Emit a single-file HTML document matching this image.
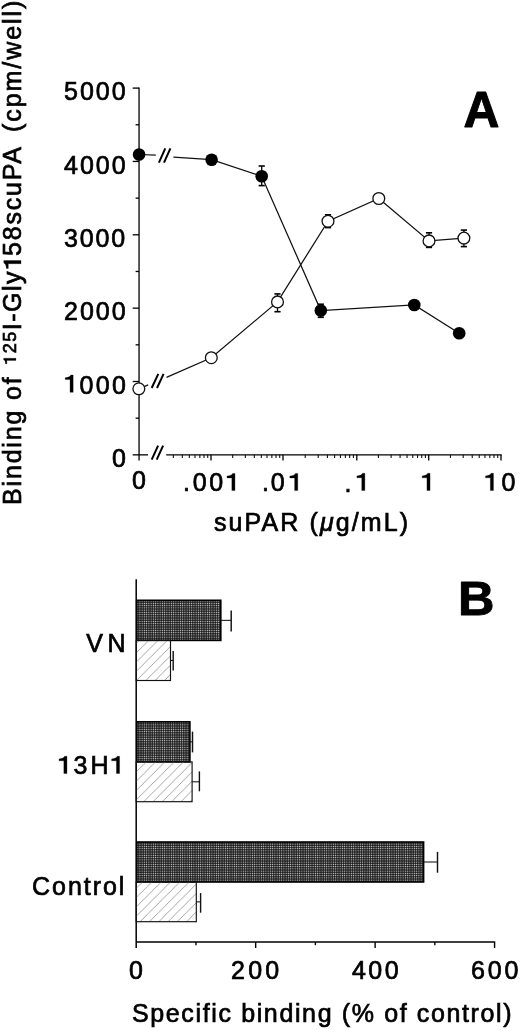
<!DOCTYPE html>
<html><head><meta charset="utf-8"><style>
html,body{margin:0;padding:0;background:#fff;width:520px;height:1030px;overflow:hidden}
svg{display:block;will-change:transform}
text{font-family:"Liberation Sans",sans-serif}
</style></head><body>
<svg width="520" height="1030" viewBox="0 0 520 1030">
<rect width="520" height="1030" fill="#fff"/>
<line x1="139.05" y1="87.50000000000003" x2="139.05" y2="460.6" stroke="#000" stroke-width="1.3"/>
<line x1="132.7" y1="454.85" x2="139.05" y2="454.85" stroke="#000" stroke-width="1.3"/>
<line x1="132.7" y1="381.5" x2="139.05" y2="381.5" stroke="#000" stroke-width="1.3"/>
<line x1="132.7" y1="308.15000000000003" x2="139.05" y2="308.15000000000003" stroke="#000" stroke-width="1.3"/>
<line x1="132.7" y1="234.80000000000004" x2="139.05" y2="234.80000000000004" stroke="#000" stroke-width="1.3"/>
<line x1="132.7" y1="161.45000000000005" x2="139.05" y2="161.45000000000005" stroke="#000" stroke-width="1.3"/>
<line x1="132.7" y1="88.10000000000002" x2="139.05" y2="88.10000000000002" stroke="#000" stroke-width="1.3"/>
<line x1="135.6" y1="418.175" x2="139.05" y2="418.175" stroke="#000" stroke-width="1.3"/>
<line x1="135.6" y1="344.82500000000005" x2="139.05" y2="344.82500000000005" stroke="#000" stroke-width="1.3"/>
<line x1="135.6" y1="271.475" x2="139.05" y2="271.475" stroke="#000" stroke-width="1.3"/>
<line x1="135.6" y1="198.12500000000006" x2="139.05" y2="198.12500000000006" stroke="#000" stroke-width="1.3"/>
<line x1="135.6" y1="124.77500000000003" x2="139.05" y2="124.77500000000003" stroke="#000" stroke-width="1.3"/>
<line x1="139.05" y1="454.85" x2="148.0" y2="454.85" stroke="#000" stroke-width="1.3"/>
<line x1="166.2" y1="454.85" x2="501.6" y2="454.85" stroke="#000" stroke-width="1.3"/>
<line x1="211.0" y1="454.85" x2="211.0" y2="460.6" stroke="#000" stroke-width="1.3"/>
<line x1="283.0" y1="454.85" x2="283.0" y2="460.6" stroke="#000" stroke-width="1.3"/>
<line x1="356.8" y1="454.85" x2="356.8" y2="460.6" stroke="#000" stroke-width="1.3"/>
<line x1="428.7" y1="454.85" x2="428.7" y2="460.6" stroke="#000" stroke-width="1.3"/>
<line x1="501.0" y1="454.85" x2="501.0" y2="460.6" stroke="#000" stroke-width="1.3"/>
<line x1="173.35" y1="454.85" x2="173.35" y2="457.9" stroke="#111" stroke-width="1.1"/>
<line x1="182.35" y1="454.85" x2="182.35" y2="457.9" stroke="#111" stroke-width="1.1"/>
<line x1="189.33" y1="454.85" x2="189.33" y2="457.9" stroke="#111" stroke-width="1.1"/>
<line x1="195.03" y1="454.85" x2="195.03" y2="457.9" stroke="#111" stroke-width="1.1"/>
<line x1="199.85" y1="454.85" x2="199.85" y2="457.9" stroke="#111" stroke-width="1.1"/>
<line x1="204.02" y1="454.85" x2="204.02" y2="457.9" stroke="#111" stroke-width="1.1"/>
<line x1="207.71" y1="454.85" x2="207.71" y2="457.9" stroke="#111" stroke-width="1.1"/>
<line x1="232.67" y1="454.85" x2="232.67" y2="457.9" stroke="#111" stroke-width="1.1"/>
<line x1="245.35" y1="454.85" x2="245.35" y2="457.9" stroke="#111" stroke-width="1.1"/>
<line x1="254.35" y1="454.85" x2="254.35" y2="457.9" stroke="#111" stroke-width="1.1"/>
<line x1="261.33" y1="454.85" x2="261.33" y2="457.9" stroke="#111" stroke-width="1.1"/>
<line x1="267.03" y1="454.85" x2="267.03" y2="457.9" stroke="#111" stroke-width="1.1"/>
<line x1="271.85" y1="454.85" x2="271.85" y2="457.9" stroke="#111" stroke-width="1.1"/>
<line x1="276.02" y1="454.85" x2="276.02" y2="457.9" stroke="#111" stroke-width="1.1"/>
<line x1="279.71" y1="454.85" x2="279.71" y2="457.9" stroke="#111" stroke-width="1.1"/>
<line x1="305.22" y1="454.85" x2="305.22" y2="457.9" stroke="#111" stroke-width="1.1"/>
<line x1="318.21" y1="454.85" x2="318.21" y2="457.9" stroke="#111" stroke-width="1.1"/>
<line x1="327.43" y1="454.85" x2="327.43" y2="457.9" stroke="#111" stroke-width="1.1"/>
<line x1="334.58" y1="454.85" x2="334.58" y2="457.9" stroke="#111" stroke-width="1.1"/>
<line x1="340.43" y1="454.85" x2="340.43" y2="457.9" stroke="#111" stroke-width="1.1"/>
<line x1="345.37" y1="454.85" x2="345.37" y2="457.9" stroke="#111" stroke-width="1.1"/>
<line x1="349.65" y1="454.85" x2="349.65" y2="457.9" stroke="#111" stroke-width="1.1"/>
<line x1="353.42" y1="454.85" x2="353.42" y2="457.9" stroke="#111" stroke-width="1.1"/>
<line x1="378.44" y1="454.85" x2="378.44" y2="457.9" stroke="#111" stroke-width="1.1"/>
<line x1="391.11" y1="454.85" x2="391.11" y2="457.9" stroke="#111" stroke-width="1.1"/>
<line x1="400.09" y1="454.85" x2="400.09" y2="457.9" stroke="#111" stroke-width="1.1"/>
<line x1="407.06" y1="454.85" x2="407.06" y2="457.9" stroke="#111" stroke-width="1.1"/>
<line x1="412.75" y1="454.85" x2="412.75" y2="457.9" stroke="#111" stroke-width="1.1"/>
<line x1="417.56" y1="454.85" x2="417.56" y2="457.9" stroke="#111" stroke-width="1.1"/>
<line x1="421.73" y1="454.85" x2="421.73" y2="457.9" stroke="#111" stroke-width="1.1"/>
<line x1="425.41" y1="454.85" x2="425.41" y2="457.9" stroke="#111" stroke-width="1.1"/>
<line x1="450.46" y1="454.85" x2="450.46" y2="457.9" stroke="#111" stroke-width="1.1"/>
<line x1="463.20" y1="454.85" x2="463.20" y2="457.9" stroke="#111" stroke-width="1.1"/>
<line x1="472.23" y1="454.85" x2="472.23" y2="457.9" stroke="#111" stroke-width="1.1"/>
<line x1="479.24" y1="454.85" x2="479.24" y2="457.9" stroke="#111" stroke-width="1.1"/>
<line x1="484.96" y1="454.85" x2="484.96" y2="457.9" stroke="#111" stroke-width="1.1"/>
<line x1="489.80" y1="454.85" x2="489.80" y2="457.9" stroke="#111" stroke-width="1.1"/>
<line x1="493.99" y1="454.85" x2="493.99" y2="457.9" stroke="#111" stroke-width="1.1"/>
<line x1="497.69" y1="454.85" x2="497.69" y2="457.9" stroke="#111" stroke-width="1.1"/>
<line x1="151.7" y1="459.6" x2="158.1" y2="445.7" stroke="#000" stroke-width="2.0"/>
<line x1="156.7" y1="459.6" x2="163.1" y2="445.7" stroke="#000" stroke-width="2.0"/>
<line x1="158.9" y1="162.6" x2="165.3" y2="148.4" stroke="#000" stroke-width="2.0"/>
<line x1="164.0" y1="162.6" x2="170.4" y2="148.4" stroke="#000" stroke-width="2.0"/>
<line x1="151.7" y1="388.0" x2="158.3" y2="373.8" stroke="#000" stroke-width="2.0"/>
<line x1="157.0" y1="388.0" x2="163.60000000000002" y2="373.8" stroke="#000" stroke-width="2.0"/>
<polyline points="139.05,154.5 155.8,155.2" fill="none" stroke="#111" stroke-width="1.25"/>
<polyline points="173.4,157.1 211.6,159.7 261.7,176.2 320.8,310.5 414.3,305.0 459.2,333.3" fill="none" stroke="#111" stroke-width="1.25"/>
<polyline points="138.85,388.8 148.2,384.9" fill="none" stroke="#111" stroke-width="1.25"/>
<polyline points="166.5,377.4 211.3,357.7 277.5,301.9 328.0,221.2 378.8,198.5 429.0,240.9 463.9,238.1" fill="none" stroke="#111" stroke-width="1.25"/>
<line x1="261.7" y1="166.0" x2="261.7" y2="185.6" stroke="#000" stroke-width="1.3"/>
<line x1="258.59999999999997" y1="166.0" x2="264.8" y2="166.0" stroke="#000" stroke-width="1.6"/>
<line x1="258.59999999999997" y1="185.6" x2="264.8" y2="185.6" stroke="#000" stroke-width="1.6"/>
<line x1="320.8" y1="304.2" x2="320.8" y2="317.3" stroke="#000" stroke-width="1.3"/>
<line x1="317.7" y1="304.2" x2="323.90000000000003" y2="304.2" stroke="#000" stroke-width="1.6"/>
<line x1="317.7" y1="317.3" x2="323.90000000000003" y2="317.3" stroke="#000" stroke-width="1.6"/>
<line x1="277.5" y1="293.9" x2="277.5" y2="311.7" stroke="#000" stroke-width="1.3"/>
<line x1="274.4" y1="293.9" x2="280.6" y2="293.9" stroke="#000" stroke-width="1.6"/>
<line x1="274.4" y1="311.7" x2="280.6" y2="311.7" stroke="#000" stroke-width="1.6"/>
<line x1="328.0" y1="214.8" x2="328.0" y2="227.6" stroke="#000" stroke-width="1.3"/>
<line x1="324.9" y1="214.8" x2="331.1" y2="214.8" stroke="#000" stroke-width="1.6"/>
<line x1="324.9" y1="227.6" x2="331.1" y2="227.6" stroke="#000" stroke-width="1.6"/>
<line x1="429.0" y1="232.8" x2="429.0" y2="247.4" stroke="#000" stroke-width="1.3"/>
<line x1="425.9" y1="232.8" x2="432.1" y2="232.8" stroke="#000" stroke-width="1.6"/>
<line x1="425.9" y1="247.4" x2="432.1" y2="247.4" stroke="#000" stroke-width="1.6"/>
<line x1="463.9" y1="230.1" x2="463.9" y2="246.6" stroke="#000" stroke-width="1.3"/>
<line x1="460.79999999999995" y1="230.1" x2="467.0" y2="230.1" stroke="#000" stroke-width="1.6"/>
<line x1="460.79999999999995" y1="246.6" x2="467.0" y2="246.6" stroke="#000" stroke-width="1.6"/>
<circle cx="138.85" cy="388.8" r="5.9" fill="#fff" stroke="#111" stroke-width="1.3"/>
<circle cx="211.3" cy="357.7" r="5.9" fill="#fff" stroke="#111" stroke-width="1.3"/>
<circle cx="277.5" cy="301.9" r="5.9" fill="#fff" stroke="#111" stroke-width="1.3"/>
<circle cx="328.0" cy="221.2" r="5.9" fill="#fff" stroke="#111" stroke-width="1.3"/>
<circle cx="378.8" cy="198.5" r="5.9" fill="#fff" stroke="#111" stroke-width="1.3"/>
<circle cx="429.0" cy="240.9" r="5.9" fill="#fff" stroke="#111" stroke-width="1.3"/>
<circle cx="463.9" cy="238.1" r="5.9" fill="#fff" stroke="#111" stroke-width="1.3"/>
<circle cx="139.05" cy="154.5" r="6.3" fill="#000"/>
<circle cx="211.6" cy="159.7" r="6.3" fill="#000"/>
<circle cx="261.7" cy="176.2" r="6.3" fill="#000"/>
<circle cx="320.8" cy="310.5" r="6.3" fill="#000"/>
<circle cx="414.3" cy="305.0" r="6.3" fill="#000"/>
<circle cx="459.2" cy="333.3" r="6.3" fill="#000"/>
<line x1="136.2" y1="579.2" x2="136.2" y2="948" stroke="#000" stroke-width="1.5"/>
<line x1="136.2" y1="942.0" x2="495.18" y2="942.0" stroke="#000" stroke-width="1.5"/>
<line x1="195.93" y1="942.0" x2="195.93" y2="945.2" stroke="#000" stroke-width="1.4"/>
<line x1="255.66" y1="942.0" x2="255.66" y2="948" stroke="#000" stroke-width="1.4"/>
<line x1="315.39" y1="942.0" x2="315.39" y2="945.2" stroke="#000" stroke-width="1.4"/>
<line x1="375.12" y1="942.0" x2="375.12" y2="948" stroke="#000" stroke-width="1.4"/>
<line x1="434.85" y1="942.0" x2="434.85" y2="945.2" stroke="#000" stroke-width="1.4"/>
<line x1="494.58" y1="942.0" x2="494.58" y2="948" stroke="#000" stroke-width="1.4"/>
<defs><pattern id="hat0" patternUnits="userSpaceOnUse" width="9.3" height="9.3" patternTransform="translate(7.9,0)"><line x1="-1" y1="10.3" x2="10.3" y2="-1" stroke="#9a9a9a" stroke-width="0.9"/><line x1="-5.65" y1="5.65" x2="5.65" y2="-5.65" stroke="#9a9a9a" stroke-width="0.9"/><line x1="3.6500000000000004" y1="14.950000000000001" x2="14.950000000000001" y2="3.6500000000000004" stroke="#9a9a9a" stroke-width="0.9"/></pattern><pattern id="hat1" patternUnits="userSpaceOnUse" width="9.3" height="9.3" patternTransform="translate(6.1,0)"><line x1="-1" y1="10.3" x2="10.3" y2="-1" stroke="#9a9a9a" stroke-width="0.9"/><line x1="-5.65" y1="5.65" x2="5.65" y2="-5.65" stroke="#9a9a9a" stroke-width="0.9"/><line x1="3.6500000000000004" y1="14.950000000000001" x2="14.950000000000001" y2="3.6500000000000004" stroke="#9a9a9a" stroke-width="0.9"/></pattern><pattern id="hat2" patternUnits="userSpaceOnUse" width="9.3" height="9.3" patternTransform="translate(1.6,0)"><line x1="-1" y1="10.3" x2="10.3" y2="-1" stroke="#9a9a9a" stroke-width="0.9"/><line x1="-5.65" y1="5.65" x2="5.65" y2="-5.65" stroke="#9a9a9a" stroke-width="0.9"/><line x1="3.6500000000000004" y1="14.950000000000001" x2="14.950000000000001" y2="3.6500000000000004" stroke="#9a9a9a" stroke-width="0.9"/></pattern><pattern id="dk" patternUnits="userSpaceOnUse" width="2.25" height="2.25"><rect width="2.25" height="2.25" fill="#202020"/><rect x="0" y="0" width="0.5" height="2.25" fill="#5a5a5a"/><rect x="0" y="0" width="2.25" height="0.5" fill="#5a5a5a"/><rect x="0" y="0" width="0.8" height="0.8" fill="#e0e0e0"/></pattern></defs>
<rect x="136.7" y="600.3" width="84.10000000000002" height="40.10000000000002" fill="url(#dk)" stroke="#000" stroke-width="1.6"/>
<rect x="136.2" y="640.4" width="34.30000000000001" height="40.10000000000002" fill="url(#hat0)" stroke="#111" stroke-width="1.15"/>
<line x1="220.8" y1="620.3499999999999" x2="231.2" y2="620.3499999999999" stroke="#111" stroke-width="1.05"/>
<line x1="231.2" y1="610.4" x2="231.2" y2="631.5" stroke="#111" stroke-width="1.45"/>
<line x1="170.5" y1="660.45" x2="173.2" y2="660.45" stroke="#111" stroke-width="1.05"/>
<line x1="173.2" y1="650.9" x2="173.2" y2="670.4" stroke="#111" stroke-width="1.4"/>
<rect x="136.7" y="721.8" width="53.20000000000002" height="40.10000000000002" fill="url(#dk)" stroke="#000" stroke-width="1.6"/>
<rect x="136.2" y="761.9" width="55.900000000000006" height="39.80000000000007" fill="url(#hat1)" stroke="#111" stroke-width="1.15"/>
<line x1="189.9" y1="741.8499999999999" x2="192.5" y2="741.8499999999999" stroke="#111" stroke-width="1.05"/>
<line x1="192.5" y1="731.6" x2="192.5" y2="752.4" stroke="#111" stroke-width="1.45"/>
<line x1="192.1" y1="781.8" x2="199.4" y2="781.8" stroke="#111" stroke-width="1.05"/>
<line x1="199.4" y1="771.4" x2="199.4" y2="791.3" stroke="#111" stroke-width="1.4"/>
<rect x="136.7" y="842.0" width="286.90000000000003" height="40.0" fill="url(#dk)" stroke="#000" stroke-width="1.6"/>
<rect x="136.2" y="882.0" width="60.10000000000002" height="39.700000000000045" fill="url(#hat2)" stroke="#111" stroke-width="1.15"/>
<line x1="423.6" y1="862.0" x2="437.5" y2="862.0" stroke="#111" stroke-width="1.05"/>
<line x1="437.5" y1="851.9" x2="437.5" y2="872.7" stroke="#111" stroke-width="1.45"/>
<line x1="196.3" y1="901.85" x2="200.6" y2="901.85" stroke="#111" stroke-width="1.05"/>
<line x1="200.6" y1="893.1" x2="200.6" y2="912.7" stroke="#111" stroke-width="1.4"/>
<path d="M70.05,392.30 L73.15,392.30 L73.15,375.10 L70.85,375.10 C70.15,376.70 68.55,377.50 65.25,377.70 L65.25,379.60 L70.05,379.60 Z" fill="#000" stroke="#000" stroke-width="0.3"/>
<path d="M231.85,490.60 L234.95,490.60 L234.95,473.40 L232.65,473.40 C231.95,475.00 230.35,475.80 227.05,476.00 L227.05,477.90 L231.85,477.90 Z" fill="#000" stroke="#000" stroke-width="0.3"/>
<path d="M294.65,490.60 L297.75,490.60 L297.75,473.40 L295.45,473.40 C294.75,475.00 293.15,475.80 289.85,476.00 L289.85,477.90 L294.65,477.90 Z" fill="#000" stroke="#000" stroke-width="0.3"/>
<path d="M361.75,490.50 L364.85,490.50 L364.85,473.30 L362.55,473.30 C361.85,474.90 360.25,475.70 356.95,475.90 L356.95,477.80 L361.75,477.80 Z" fill="#000" stroke="#000" stroke-width="0.3"/>
<path d="M426.95,490.50 L430.05,490.50 L430.05,473.30 L427.75,473.30 C427.05,474.90 425.45,475.70 422.15,475.90 L422.15,477.80 L426.95,477.80 Z" fill="#000" stroke="#000" stroke-width="0.3"/>
<path d="M490.35,490.50 L493.45,490.50 L493.45,473.30 L491.15,473.30 C490.45,474.90 488.85,475.70 485.55,475.90 L485.55,477.80 L490.35,477.80 Z" fill="#000" stroke="#000" stroke-width="0.3"/>
<path d="M63.85,773.50 L66.95,773.50 L66.95,756.30 L64.65,756.30 C63.95,757.90 62.35,758.70 59.05,758.90 L59.05,760.80 L63.85,760.80 Z" fill="#000" stroke="#000" stroke-width="0.3"/>
<path d="M116.45,773.50 L119.55,773.50 L119.55,756.30 L117.25,756.30 C116.55,757.90 114.95,758.70 111.65,758.90 L111.65,760.80 L116.45,760.80 Z" fill="#000" stroke="#000" stroke-width="0.3"/>
<g transform="translate(16.0,358.2) rotate(-90) scale(0.72)"><path d="M-3.10,0.00 L0.00,0.00 L0.00,-17.20 L-2.30,-17.20 C-3.00,-15.60 -4.60,-14.80 -7.90,-14.60 L-7.90,-12.70 L-3.10,-12.70 Z" fill="#000" stroke="#000" stroke-width="0.3"/></g>
<g transform="translate(21.0,260.6) rotate(-90) scale(1.0)"><path d="M-3.10,0.00 L0.00,0.00 L0.00,-17.20 L-2.30,-17.20 C-3.00,-15.60 -4.60,-14.80 -7.90,-14.60 L-7.90,-12.70 L-3.10,-12.70 Z" fill="#000" stroke="#000" stroke-width="0.3"/></g>
<text id="ya5" x="64.00" y="99.60" font-size="25" letter-spacing="2.000" stroke="#000" stroke-width="0.7" font-family="Liberation Sans, sans-serif">5000</text>
<text id="ya4" x="64.00" y="173.60" font-size="25" letter-spacing="2.000" stroke="#000" stroke-width="0.7" font-family="Liberation Sans, sans-serif">4000</text>
<text id="ya3" x="64.00" y="246.60" font-size="25" letter-spacing="1.833" stroke="#000" stroke-width="0.7" font-family="Liberation Sans, sans-serif">3000</text>
<text id="ya2" x="64.00" y="319.60" font-size="25" letter-spacing="2.000" stroke="#000" stroke-width="0.7" font-family="Liberation Sans, sans-serif">2000</text>
<text id="ya1" x="79.50" y="393.60" font-size="25" letter-spacing="2.333" stroke="#000" stroke-width="0.7" font-family="Liberation Sans, sans-serif">000</text>
<text id="ya0" x="112.00" y="466.60" font-size="25" letter-spacing="1.500" stroke="#000" stroke-width="0.7" font-family="Liberation Sans, sans-serif">0</text>
<text id="xa0" x="132.00" y="488.60" font-size="25" letter-spacing="1.500" stroke="#000" stroke-width="0.7" font-family="Liberation Sans, sans-serif">0</text>
<text id="xa1" x="183.00" y="490.60" font-size="25" letter-spacing="2.750" stroke="#000" stroke-width="0.7" font-family="Liberation Sans, sans-serif">.00</text>
<text id="xa2" x="262.00" y="490.60" font-size="25" letter-spacing="1.900" stroke="#000" stroke-width="0.7" font-family="Liberation Sans, sans-serif">.0</text>
<text id="xa3" x="344.50" y="491.60" font-size="25" letter-spacing="1.900" stroke="#000" stroke-width="0.7" font-family="Liberation Sans, sans-serif">.</text>
<text id="xa5" x="501.50" y="490.60" font-size="25" letter-spacing="2.300" stroke="#000" stroke-width="0.7" font-family="Liberation Sans, sans-serif">0</text>
<text id="xat" x="214.00" y="531.00" font-size="25" letter-spacing="2.108" stroke="#000" stroke-width="0.7" font-family="Liberation Sans, sans-serif">suPAR (<tspan font-style="italic">μ</tspan>g/mL)</text>
<text id="vn_v" x="86.20" y="652.00" font-size="25" letter-spacing="1.500" stroke="#000" stroke-width="0.7" font-family="Liberation Sans, sans-serif">V</text>
<text id="vn_n" x="107.60" y="652.00" font-size="25" letter-spacing="1.500" stroke="#000" stroke-width="0.7" font-family="Liberation Sans, sans-serif">N</text>
<text id="h1_b" x="73.40" y="773.60" font-size="25" letter-spacing="1.500" stroke="#000" stroke-width="0.7" font-family="Liberation Sans, sans-serif">3</text>
<text id="h1_c" x="90.40" y="773.60" font-size="25" letter-spacing="1.500" stroke="#000" stroke-width="0.7" font-family="Liberation Sans, sans-serif">H</text>
<text id="ctl" x="32.00" y="894.60" font-size="25" letter-spacing="1.967" stroke="#000" stroke-width="0.7" font-family="Liberation Sans, sans-serif">Control</text>
<text id="xb0" x="129.00" y="978.60" font-size="25" letter-spacing="1.500" stroke="#000" stroke-width="0.7" font-family="Liberation Sans, sans-serif">0</text>
<text id="xb2" x="231.00" y="978.60" font-size="25" letter-spacing="3.250" stroke="#000" stroke-width="0.7" font-family="Liberation Sans, sans-serif">200</text>
<text id="xb4" x="352.00" y="978.60" font-size="25" letter-spacing="2.450" stroke="#000" stroke-width="0.7" font-family="Liberation Sans, sans-serif">400</text>
<text id="xb6" x="471.00" y="978.60" font-size="25" letter-spacing="2.850" stroke="#000" stroke-width="0.7" font-family="Liberation Sans, sans-serif">600</text>
<text id="xbt" x="132.00" y="1022.00" font-size="25" letter-spacing="1.630" stroke="#000" stroke-width="0.7" font-family="Liberation Sans, sans-serif">Specific binding (% of control)</text>
<text id="A" transform="translate(463.60,127.40) scale(0.9387,0.9280)" x="0" y="0" font-size="53" font-weight="bold" stroke="#000" stroke-width="1.0" stroke-linejoin="round" font-family="Liberation Sans, sans-serif">A</text>
<text id="Bl" transform="translate(458.00,615.40) scale(0.9517,0.9228)" x="0" y="0" font-size="53" font-weight="bold" stroke="#000" stroke-width="1.0" stroke-linejoin="round" font-family="Liberation Sans, sans-serif">B</text>
<g transform="translate(21.00,505.00) rotate(-90)"><text id="r1" x="0" y="0" font-size="25" letter-spacing="1.833" stroke="#000" stroke-width="0.7" font-family="Liberation Sans, sans-serif">Binding of</text></g>
<g transform="translate(16.00,353.20) rotate(-90)"><text id="r2" x="0" y="0" font-size="18" letter-spacing="1.350" stroke="#000" stroke-width="0.7" font-family="Liberation Sans, sans-serif">25</text></g>
<g transform="translate(21.00,330.20) rotate(-90)"><text id="r3a" x="0" y="0" font-size="25" letter-spacing="1.500" stroke="#000" stroke-width="0.7" font-family="Liberation Sans, sans-serif">I-Gly</text></g>
<g transform="translate(21.00,256.00) rotate(-90)"><text id="r3b" x="0" y="0" font-size="25" letter-spacing="1.800" stroke="#000" stroke-width="0.7" font-family="Liberation Sans, sans-serif">58scuPA</text></g>
<g transform="translate(21.00,132.00) rotate(-90)"><text id="r4" x="0" y="0" font-size="25" letter-spacing="1.933" stroke="#000" stroke-width="0.7" font-family="Liberation Sans, sans-serif">(cpm/well)</text></g>
</svg>
</body></html>
